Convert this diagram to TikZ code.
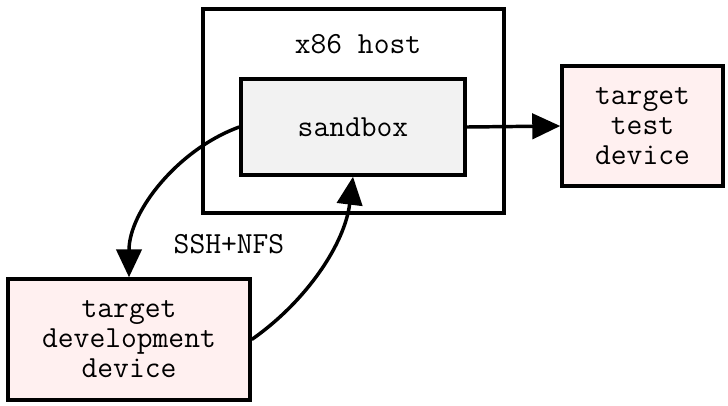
\documentclass[tikz,border=0pt]{standalone}
\usepackage{fontspec}
\usetikzlibrary{arrows.meta, positioning}
\definecolor{sandgray}{RGB}{242, 242, 242}
\definecolor{devpink}{RGB}{255, 240, 240}
\tikzset{
  box/.style={rectangle, draw=black, line width=2.6pt, align=center,
              font=\ttfamily\fontsize{23}{22.5}\selectfont, inner sep=0pt},
  hostbox/.style={box, minimum width=225.75pt, minimum height=153pt},
  sandbox/.style={box, fill=sandgray, minimum width=168pt, minimum height=72pt},
  devbox/.style={box, fill=devpink},
  lbl/.style={font=\ttfamily\fontsize{23}{22.5}\selectfont},
  flow/.style={-{Triangle[length=21pt, width=19pt]}, line width=2.6pt},
}
\begin{document}
\begin{tikzpicture}[x=0.75pt, y=0.75pt]
    \useasboundingbox (0,0) rectangle (728,-405);
    \node[hostbox] (host) at (353.5,-111) {};
    \node[lbl] (hostlbl) at (358,-44) {x86 host};
    \node[sandbox] (sbx) at (353,-127) {sandbox};
    \node[devbox, minimum width=120.75pt, minimum height=90pt] (test) at (642.5,-126) {target\\test\\device};
    \node[devbox, minimum width=181.5pt, minimum height=90.75pt] (dev) at (129,-339.5) {target\\development\\device};
    \node[lbl] (ssh) at (229,-244) {SSH+NFS};

    \draw[flow] (sbx.east) -- (test.west);
    \draw[flow] (sbx.west) to[out=200, in=90, looseness=0.9] (dev.north);
    \draw[flow] (dev.east) to[out=35, in=-97, looseness=0.9] (sbx.south);
\end{tikzpicture}
\end{document}
